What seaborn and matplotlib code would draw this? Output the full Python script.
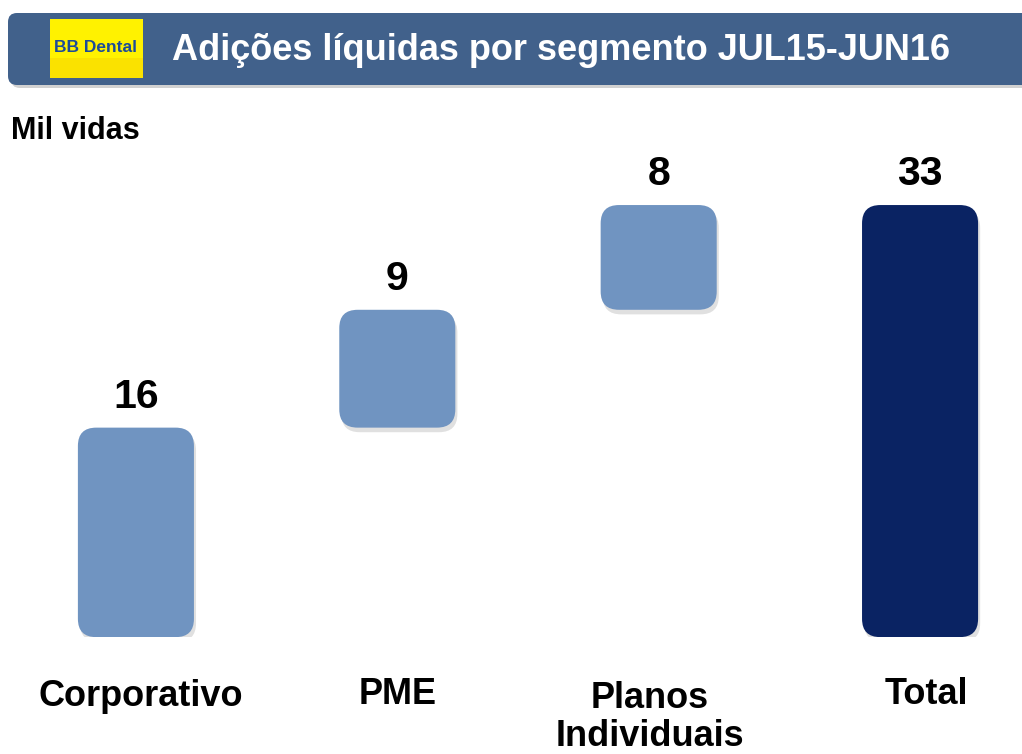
import pandas as pd
import matplotlib.pyplot as plt
import seaborn as sns
from matplotlib.patches import FancyBboxPatch, Rectangle

# Dados (mil vidas)
categorias = ["Corporativo", "PME", "Planos\nIndividuais", "Total"]
valores = [16, 9, 8, 33]
base = [0, 16, 25, 0]
cores = ["#7094c1", "#7094c1", "#7094c1", "#0a2363"]

df = pd.DataFrame({"segmento": categorias, "valor": valores, "base": base})

sns.set_style("white")
plt.rcParams["font.family"] = ["Liberation Sans", "DejaVu Sans"]
plt.rcParams["text.color"] = "black"

fig = plt.figure(figsize=(10.22, 7.54), dpi=100)
ax = fig.add_axes([0, 0.155, 1, 0.646])

sns.barplot(data=df, x="segmento", y="valor", hue="segmento", palette=cores,
            legend=False, width=0.444, ax=ax)

ax.set_xlim(-0.52, 3.39)
ax.set_ylim(0, 37.2)
ax.axis("off")

# barras flutuantes com cantos arredondados
aspect = (1022 / 3.91) / (754 * 0.646 / 37.2)
for p, b, v, c in zip(list(ax.patches), df["base"], df["valor"], cores):
    x0, w = p.get_x(), p.get_width()
    p.remove()
    sombra = FancyBboxPatch((x0 + 0.008, b - 0.35), w, v,
                            boxstyle="round,pad=0,rounding_size=0.07",
                            mutation_aspect=aspect, fc="#000000", alpha=0.12,
                            ec="none", zorder=1)
    ax.add_patch(sombra)
    barra = FancyBboxPatch((x0, b), w, v,
                           boxstyle="round,pad=0,rounding_size=0.07",
                           mutation_aspect=aspect, fc=c, ec="none", zorder=2)
    ax.add_patch(barra)
    ax.text(x0 + w / 2, b + v + 0.9, str(v), ha="center", va="bottom",
            fontsize=29.5, fontweight="bold", color="black")

# cabeçalho e rótulos (coordenadas em pixels)
hd = fig.add_axes([0, 0, 1, 1], zorder=-1)
hd.set_xlim(0, 1022)
hd.set_ylim(754, 0)
hd.axis("off")

pos_rotulos = [(141, 696), (398, 694), (650, 698), (926, 694)]
for cat, (px, py) in zip(df["segmento"], pos_rotulos):
    linhas = cat.split("\n")
    for k, linha in enumerate(linhas):
        hd.text(px, py + 38 * k, linha, ha="center", va="center",
                fontsize=26, fontweight="bold", color="black")

hd.add_patch(FancyBboxPatch((11, 16), 1040, 72, boxstyle="round,pad=0,rounding_size=9",
                            fc="#000000", alpha=0.18, ec="none"))
hd.add_patch(FancyBboxPatch((8, 13), 1040, 72, boxstyle="round,pad=0,rounding_size=9",
                            fc="#41618b", ec="none"))
hd.add_patch(Rectangle((50, 19), 93, 59, fc="#fff200", ec="none"))
hd.add_patch(Rectangle((50, 58), 93, 20, fc="#f8d800", ec="none", alpha=0.6))
hd.text(95, 48, "BB Dental", ha="center", va="center", fontsize=12.5,
        fontweight="bold", color="#1d4c98")
hd.text(172, 50, "Adições líquidas por segmento JUL15-JUN16", ha="left",
        va="center", fontsize=26, fontweight="bold", color="white")
hd.text(11, 131, "Mil vidas", ha="left", va="center", fontsize=22,
        fontweight="bold", color="black")

plt.savefig("out.png", dpi=100)
